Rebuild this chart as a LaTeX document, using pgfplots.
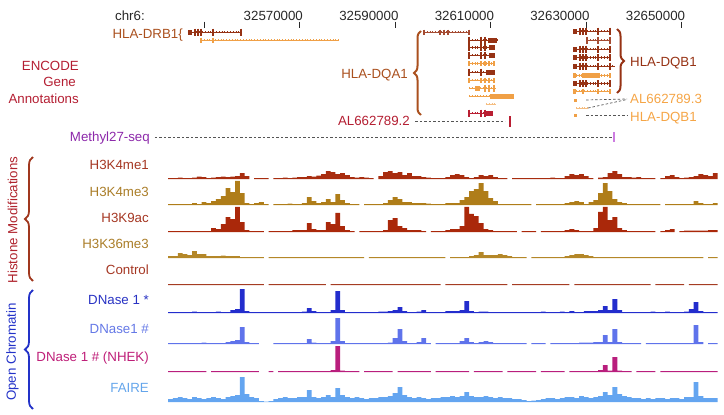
\documentclass[border=0pt]{standalone}
\usepackage{pgfplots}
\pgfplotsset{compat=1.18}
\usepackage{pgfplotstable}
\usepackage{fontspec}
\setmainfont{Liberation Sans}
\usetikzlibrary{decorations.pathreplacing}

\definecolor{cMe1}{RGB}{168,45,15}
\definecolor{cMe3}{RGB}{175,125,25}
\definecolor{cK9}{RGB}{170,40,10}
\definecolor{cK36}{RGB}{180,135,40}
\definecolor{cCtl}{RGB}{165,60,35}
\definecolor{cDn1}{RGB}{35,45,205}
\definecolor{cDn2}{RGB}{95,115,235}
\definecolor{cNhek}{RGB}{185,30,125}
\definecolor{cFaire}{RGB}{100,165,240}
\definecolor{lMe1}{RGB}{165,55,35}
\definecolor{lMe3}{RGB}{170,125,40}
\definecolor{lDn1}{RGB}{40,50,195}
\definecolor{lDn2}{RGB}{100,120,230}
\definecolor{lNhek}{RGB}{190,30,120}
\definecolor{lFaire}{RGB}{100,165,235}
\definecolor{cEnc}{RGB}{180,30,50}
\definecolor{cGeneDark}{RGB}{150,50,20}
\definecolor{cGeneMid}{RGB}{165,75,50}
\definecolor{cGeneOr}{RGB}{240,160,70}
\definecolor{cGeneLt}{RGB}{245,190,130}
\definecolor{cGeneCr}{RGB}{185,30,50}
\definecolor{cLabBrown}{RGB}{170,80,30}
\definecolor{cLabOr}{RGB}{245,165,70}
\definecolor{cMeth}{RGB}{140,40,170}
\definecolor{cMethTick}{RGB}{205,125,225}
\definecolor{cDash}{RGB}{85,85,85}
\definecolor{cTick}{RGB}{40,40,40}
\definecolor{cHist}{RGB}{175,35,45}
\definecolor{cHistBrace}{RGB}{160,55,30}
\definecolor{cOpen}{RGB}{35,50,200}

\pgfplotstableread{
kb me1 me3 k9 k36 ctl dn1 dn2 nhek faire
32543 1 1 1 2 0.8 1 1 1 3
32544 1 1 1 2 0.8 1 1 1 4
32545 1.5 1 1 5 0.8 1 1 1 5
32546 1 1 1 4 0.8 1 1 1 4
32547 1 1 1 3 0.8 1 1 1 3
32548 1.5 2 1 7 0.8 1.5 1 1 5
32549 2.5 1 1 4 0.8 1 1 1 4
32550 2 3 1 4 0.8 1 1.5 1 3
32551 1 2 1 2 0.8 1 1 nan 4
32552 1.5 4 4 2 0.8 1 1 1 5
32553 2 6 3 2 0.8 1.5 1 1 4
32554 2.5 9 8 2.5 0.8 1 1 1 3
32555 2 17 15 2 0.8 1 2 1 5
32556 2.5 13 13 2 0.8 3 3 1 6
32557 3 24 25 2 0.8 4 4 1 7
32558 6 12 10 1 0.8 24 17 1 25
32559 3 2 2 1 0.8 2 2 1 8
32560 nan 1 1 1 0.8 1 1 1 5
32561 1 2 1 1 0.8 1 1 1 4
32562 1 3 1 1 0.8 1 nan nan 1
32563 1 1 nan nan nan 1 nan nan 0.5
32564 nan nan 1 1 0.8 1 nan 1 1
32565 1 1 1 1 0.8 1 1 nan 3
32566 1 1 1 1 0.8 1 1 1 4
32567 1.5 1 1 1 0.8 1 1 1 5
32568 1 1.5 1 1 0.8 1 1 1 4
32569 1.5 1 2 1 0.8 1 1 1 4
32570 2 1 2 1 0.8 1 1 1 5
32571 2 2 2 1 0.8 1.5 1 1 5
32572 3 8 9 1 0.8 5 5 1 12
32573 2.5 4 3 1 0.8 2 1.5 1 5
32574 3.5 2 2 1 0.8 1 1 1 4
32575 5 3 2 1 0.8 1 1 1 5
32576 8 6 10 1 nan 1 1 1 7
32577 7 3 8 1 0.8 3 3 2 5
32578 5 11 19 1 0.8 22 26 26 14
32579 6 5 6 1 0.8 3 3 1.5 7
32580 4 2 2 1 0.8 1 1 1 5
32581 2 1 1 1 0.8 1 1 1 4
32582 1.5 1 nan 1 0.8 1 1 1 5
32583 2 nan 1 1 0.8 1 1 nan 4
32584 1.5 1 1 nan 0.8 1 1 1 3
32585 1 1 1 1 0.8 1 1 1 4
32586 nan 1 1 1 0.8 1 1 1 4
32587 3 1 1 1 0.8 1.5 1 1 5
32588 7 2 2 1 0.8 1.5 1 1 5
32589 8 5 12 1 0.8 2 1.5 1 6
32590 6 8 14 1 0.8 3 6 nan 9
32591 7 6 6 1 0.8 6 15 1 15
32592 4 3 4 1 0.8 2 3 1 7
32593 6 3 2 1 0.8 1 1 1 5
32594 3 2 2 1 0.8 1 1 1 4
32595 3 2 2 1 0.8 1.5 2 1 5
32596 2 2 1 1 0.8 3 6 1 4
32597 1.5 1.5 nan 1 0.8 1 1 1 3
32598 1 1 1 1 0.8 1 nan nan 4
32599 1 1 1 1 0.8 1 1 1 4
32600 1 1 1 1 nan 1 1 1 5
32601 2 2 2 nan 0.8 2 1 1 5
32602 4 2 3 1 0.8 2 1 1 6
32603 5 2 3 1 0.8 2 1 1 5
32604 4 5 6 1 0.8 3 3 1 6
32605 2 8 25 1 0.8 12 6 1 10
32606 1 14 18 2 0.8 2 2 nan 6
32607 2 16 16 3 0.8 1 1 1 5
32608 4 22 9 6 0.8 1.5 2 1 5
32609 3 14 3 3 0.8 1.5 3 1 6
32610 4 7 2 3 0.8 1 2 1 5
32611 2 4 1 3 0.8 1 1 1 4
32612 1 1 1 4 0.8 1 1 1 5
32613 1 1 1 3 0.8 1 1 nan 4
32614 nan 1 1 2 nan 1 1 1 4
32615 1 1 1 1 0.8 1 1 1 3
32616 1 1 nan 1 0.8 1 1 1 3
32617 1 1 1 1 0.8 1 1 1 2
32618 1 1 1 nan 0.8 1 nan 1 1
32619 1 nan 1 1 0.8 1 1 1 1.5
32620 1 1 nan 1 0.8 1 1 nan 2
32621 1 1 1 1 0.8 1.5 1 1 3
32622 1 1 1 1 0.8 1 nan 1 4
32623 1.5 1 1 1 0.8 1 1 1 4
32624 1 1 1 1 0.8 1 1 1 3
32625 1 1 1 1 0.8 1.5 1 1 4
32626 3 2 2 2 0.8 1 1 nan 5
32627 5 3 3 3 nan 2 1 1 5
32628 4 4 2 4 0.8 1 1 1 4
32629 5 3 1 4 0.8 1 1.5 1 6
32630 3 1 1 3 0.8 2 1.5 1 5
32631 1 3 1 2 0.8 2 1.5 1 4
32632 nan 5 4 1 0.8 2 2 1 5
32633 1.5 12 20 1 0.8 3 2 2 6
32634 2 22 25 1 0.8 7 9 7 10
32635 6 14 12 1 0.8 3 2 1.5 7
32636 8 6 15 1 0.8 14 15 15 15
32637 5 3 4 1 0.8 3 2 1.5 8
32638 2 2 2 1 0.8 1 1 1 6
32639 2 1 1 1 0.8 1 1 1 5
32640 1.5 1 1 1 0.8 1 1 nan 4
32641 2 1 1 1 0.8 1 1 1 4
32642 1 1 1 1 0.8 1 nan 1 3
32643 1 1 1 1 0.8 1 1 1 4
32644 1 1 1 1 nan 1.5 1 1 3
32645 nan 1 nan 1 0.8 1 1 nan 4
32646 1 nan 1 1 0.8 1 1 1 4
32647 3 1 2 1 0.8 1.5 1 1 3
32648 4 1 3 1 0.8 1 1 1 4
32649 2 1 nan 1 0.8 1 1 1 4
32650 1 1 1 1 0.8 1 1 1 3
32651 1.5 1 1.5 1 nan 1.5 1 1 5
32652 2 1 1.5 1 0.8 4 1 1 5
32653 3 4 1.5 1 0.8 11 19 1 20
32654 5 2 1.5 1 0.8 2 2 1 6
32655 4 1 1.5 nan 0.8 1 nan 1 4
32656 3 1 2 1 0.8 1 1 1 4
32657 6 2 2 1 0.8 1 1 1 4
}\tracks

\pgfplotsset{
  track/.style={width=549.36pt, height=26pt, scale only axis,
    xmin=32542.5, xmax=32657.5, ymin=0, ymax=26, hide axis,
    anchor=south west, clip=false},
  sig/.style={ybar, bar width=1, bar shift=0pt, draw=none, fill=#1},
  intron/.style={line width=0.6pt, postaction={draw, line width=2.2pt, dash pattern=on 0.4pt off 2.4pt}},
  exon/.style={only marks, mark=|, mark size=3.5pt, mark options={line width=1.3pt}},
  block/.style={line width=5pt},
  conn/.style={cDash, line width=0.7pt, dash pattern=on 2.5pt off 2pt},
}

\begin{document}
\begin{tikzpicture}[x=1pt, y=1pt, every node/.style={font=\fontsize{13.3}{15}\selectfont, inner sep=0pt}]
\useasboundingbox (0,0) rectangle (724,-415);

% ---------- frame axis: coordinates (kb, pixel row) ----------
\begin{axis}[at={(362pt,-207.5pt)}, anchor=center, width=724pt, height=415pt, scale only axis,
  xmin=32507.29, xmax=32658.84, ymin=0, ymax=415, y dir=reverse, hide axis, clip=false]
% ruler ticks
\addplot[only marks, mark=|, mark size=3.2pt, mark options={line width=0.8pt}, color=cTick]
  coordinates {(32550,24.8)(32570,24.8)(32590,24.8)(32610,24.8)(32630,24.8)(32650,24.8)};
\node[anchor=base east, xshift=3.5pt, text=cTick] at (axis cs:32570,20) {32570000};
\node[anchor=base east, xshift=3.5pt, text=cTick] at (axis cs:32590,20) {32590000};
\node[anchor=base east, xshift=3.5pt, text=cTick] at (axis cs:32610,20) {32610000};
\node[anchor=base east, xshift=3.5pt, text=cTick] at (axis cs:32630,20) {32630000};
\node[anchor=base east, xshift=3.5pt, text=cTick] at (axis cs:32650,20) {32650000};

% HLA-DRB1
\addplot[cGeneDark, intron] coordinates {(32546.64,32)(32557.73,32)};
\addplot[cGeneDark, block] coordinates {(32546.64,32)(32547.48,32)};
\addplot[cGeneDark, exon] coordinates {(32548.10,32)(32548.73,32)(32549.36,32)(32551.87,32)(32557.73,32)};
\addplot[cGeneOr, intron] coordinates {(32549.36,40)(32578.25,40)};
\addplot[cGeneOr, exon, mark size=2.5pt] coordinates {(32549.36,40)(32551.87,40)};

% HLA-DQA1
\addplot[cGeneMid, intron] coordinates {(32596.04,32)(32605.46,32)};
\addplot[cGeneMid, exon, mark size=2.5pt] coordinates {(32596.04,32)(32599.39,32)(32600.23,32)(32601.07,32)(32605.46,32)};
\addplot[cGeneDark, intron] coordinates {(32605.46,40)(32611.33,40)};
\addplot[cGeneDark, block] coordinates {(32609.44,40)(32611.33,40)};
\addplot[cGeneDark, exon] coordinates {(32605.46,40)(32607.98,40)(32608.81,40)};
\addplot[cGeneDark, intron] coordinates {(32605.46,47.5)(32610.91,47.5)};
\addplot[cGeneDark, block] coordinates {(32609.65,47.5)(32610.91,47.5)};
\addplot[cGeneDark, exon] coordinates {(32605.46,47.5)(32607.98,47.5)(32608.81,47.5)};
\addplot[cGeneDark, intron] coordinates {(32605.46,55)(32610.91,55)};
\addplot[cGeneDark, block] coordinates {(32609.65,55)(32610.91,55)};
\addplot[cGeneDark, exon] coordinates {(32605.46,55)(32607.98,55)(32608.81,55)};
\addplot[cGeneOr, intron] coordinates {(32605.46,63.5)(32610.70,63.5)};
\addplot[cGeneOr, exon, mark size=2.5pt] coordinates {(32605.46,63.5)(32607.98,63.5)(32608.81,63.5)(32609.65,63.5)(32610.70,63.5)};
\addplot[cGeneDark, intron] coordinates {(32605.46,72)(32610.91,72)};
\addplot[cGeneDark, block] coordinates {(32609.02,72)(32610.91,72)};
\addplot[cGeneDark, exon] coordinates {(32605.46,72)(32607.98,72)};
\addplot[cGeneOr, intron] coordinates {(32605.46,80)(32610.70,80)};
\addplot[cGeneOr, exon, mark size=2.5pt] coordinates {(32605.46,80)(32607.98,80)(32608.81,80)(32609.65,80)(32610.70,80)};
\addplot[cGeneOr, intron] coordinates {(32605.46,88)(32611.12,88)};
\addplot[cGeneOr, block] coordinates {(32606.72,88)(32607.77,88)};
\addplot[cGeneOr, exon] coordinates {(32608.81,88)(32609.65,88)(32610.70,88)};
\addplot[cGeneOr, intron] coordinates {(32605.46,96)(32609.86,96)};
\addplot[cGeneOr, block] coordinates {(32609.86,96)(32614.88,96)};
\addplot[cGeneLt, intron] coordinates {(32609.02,104)(32611.12,104)};
\addplot[cGeneCr, intron] coordinates {(32605.46,113)(32610.49,113)};
\addplot[cGeneCr, block] coordinates {(32609.02,113)(32610.49,113)};
\addplot[cGeneCr, exon] coordinates {(32605.46,113)(32607.98,113)(32608.81,113)};

% HLA-DQB1
\addplot[cGeneDark, intron] coordinates {(32627.24,31)(32634.98,31)};
\addplot[cGeneDark, block] coordinates {(32627.24,31)(32628.07,31)};
\addplot[cGeneDark, exon] coordinates {(32628.70,31)(32629.33,31)(32629.96,31)(32632.47,31)(32634.98,31)};
\addplot[cGeneMid, intron] coordinates {(32630.17,40)(32634.98,40)};
\addplot[cGeneMid, exon] coordinates {(32630.17,40)(32632.47,40)(32634.98,40)};
\addplot[cGeneDark, intron] coordinates {(32627.24,49)(32634.98,49)};
\addplot[cGeneDark, block] coordinates {(32627.24,49)(32628.07,49)};
\addplot[cGeneDark, exon] coordinates {(32628.70,49)(32629.33,49)(32629.96,49)(32632.47,49)(32634.98,49)};
\addplot[cGeneDark, intron] coordinates {(32627.24,57.5)(32634.98,57.5)};
\addplot[cGeneDark, block] coordinates {(32627.24,57.5)(32628.07,57.5)};
\addplot[cGeneDark, exon] coordinates {(32628.70,57.5)(32629.33,57.5)(32629.96,57.5)(32632.47,57.5)(32634.98,57.5)};
\addplot[cGeneDark, intron] coordinates {(32627.24,66)(32636.03,66)};
\addplot[cGeneDark, block] coordinates {(32627.24,66)(32628.07,66)};
\addplot[cGeneDark, exon] coordinates {(32628.70,66)(32629.33,66)(32629.96,66)(32632.47,66)(32634.98,66)};
\addplot[cGeneOr, intron] coordinates {(32627.24,75.5)(32634.98,75.5)};
\addplot[cGeneOr, block] coordinates {(32627.24,75.5)(32627.86,75.5)};
\addplot[cGeneOr, block] coordinates {(32629.12,75.5)(32632.89,75.5)};
\addplot[cGeneOr, exon, mark size=2.5pt] coordinates {(32634.98,75.5)};
\addplot[cGeneDark, intron] coordinates {(32627.24,83.5)(32634.98,83.5)};
\addplot[cGeneDark, block] coordinates {(32627.24,83.5)(32628.07,83.5)};
\addplot[cGeneDark, exon] coordinates {(32628.70,83.5)(32629.33,83.5)(32629.96,83.5)(32632.47,83.5)(32634.98,83.5)};
\addplot[cGeneOr, intron] coordinates {(32627.24,91)(32634.98,91)};
\addplot[cGeneOr, block] coordinates {(32627.24,91)(32627.86,91)};
\addplot[cGeneOr, exon, mark size=2.5pt] coordinates {(32629.33,91)(32632.47,91)(32634.98,91)};
% AL662789.3 and small HLA-DQB1 models
\addplot[cGeneOr, line width=3pt] coordinates {(32627.45,100)(32628.07,100)};
\addplot[cGeneLt, intron] coordinates {(32627.86,108)(32630.38,108)};
\addplot[cGeneOr, line width=3pt] coordinates {(32627.45,115.5)(32628.07,115.5)};
% connectors
\addplot[conn] coordinates {(32629.96,100)(32638.54,99)};
\addplot[conn] coordinates {(32630.38,108)(32638.54,99.5)};
\addplot[conn] coordinates {(32629.96,115.5)(32638.54,115.5)};
\addplot[conn] coordinates {(32594.16,121)(32613.00,121)};
\addplot[cGeneCr, line width=1.6pt] coordinates {(32614.05,116)(32614.05,127)};
\addplot[conn] coordinates {(32539.73,137)(32635.40,137)};
\addplot[cMethTick, line width=1.6pt] coordinates {(32635.82,132)(32635.82,142)};
\end{axis}

% ---------- signal tracks ----------
\begin{axis}[track, at={(168.22pt,-179pt)}]
\addplot[sig=cMe1] table[x=kb, y=me1] {\tracks};
\end{axis}
\begin{axis}[track, at={(168.22pt,-205pt)}]
\addplot[sig=cMe3] table[x=kb, y=me3] {\tracks};
\end{axis}
\begin{axis}[track, at={(168.22pt,-232pt)}]
\addplot[sig=cK9] table[x=kb, y=k9] {\tracks};
\end{axis}
\begin{axis}[track, at={(168.22pt,-258pt)}]
\addplot[sig=cK36] table[x=kb, y=k36] {\tracks};
\end{axis}
\begin{axis}[track, at={(168.22pt,-285pt)}]
\addplot[sig=cCtl] table[x=kb, y=ctl] {\tracks};
\end{axis}
\begin{axis}[track, at={(168.22pt,-313pt)}]
\addplot[sig=cDn1] table[x=kb, y=dn1] {\tracks};
\end{axis}
\begin{axis}[track, at={(168.22pt,-344pt)}]
\addplot[sig=cDn2] table[x=kb, y=dn2] {\tracks};
\end{axis}
\begin{axis}[track, at={(168.22pt,-372pt)}]
\addplot[sig=cNhek] table[x=kb, y=nhek] {\tracks};
\end{axis}
\begin{axis}[track, at={(168.22pt,-402pt)}]
\addplot[sig=cFaire] table[x=kb, y=faire] {\tracks};
\end{axis}

% ---------- labels ----------
\node[anchor=base west, text=cTick] at (115,-20) {chr6:};
\node[anchor=base east, text=cEnc] at (79,-70) {ENCODE};
\node[anchor=base east, text=cEnc] at (76,-86.5) {Gene};
\node[anchor=base east, text=cEnc] at (79,-103) {Annotations};
\node[anchor=base east, text=cLabBrown] at (183,-38) {HLA-DRB1\{};
\node[anchor=base east, text=cLabBrown] at (408,-78.5) {HLA-DQA1};
\node[anchor=base east, text=cEnc] at (410,-125.5) {AL662789.2};
\node[anchor=base west, text=cGeneDark] at (630,-66) {HLA-DQB1};
\node[anchor=base west, text=cLabOr] at (630,-103.5) {AL662789.3};
\node[anchor=base west, text=cLabOr] at (630,-121) {HLA-DQB1};
\node[anchor=base east, text=cMeth] at (150,-141.5) {Methyl27-seq};

\node[anchor=base east, text=lMe1] at (149,-169) {H3K4me1};
\node[anchor=base east, text=lMe3] at (149,-196) {H3K4me3};
\node[anchor=base east, text=lMe1] at (149,-222) {H3K9ac};
\node[anchor=base east, text=lMe3] at (149,-248) {H3K36me3};
\node[anchor=base east, text=lMe1] at (149,-274) {Control};
\node[anchor=base east, text=lDn1] at (149,-304) {DNase 1 *};
\node[anchor=base east, text=lDn2] at (149,-333) {DNase1 \#};
\node[anchor=base east, text=lNhek] at (149,-361) {DNase 1 \# (NHEK)};
\node[anchor=base east, text=lFaire] at (149,-392) {FAIRE};

\node[rotate=90, text=cHist] at (12.5,-220) {Histone Modifications};
\node[rotate=90, text=cOpen] at (12.5,-352) {Open Chromatin};

% braces
\draw[cLabBrown, line width=2pt, decorate, decoration={brace, amplitude=7pt}] (421,-115) -- (421,-31);
\draw[cGeneDark, line width=2pt, decorate, decoration={brace, amplitude=7pt}] (617,-29) -- (617,-93);
\draw[cHistBrace, line width=1.8pt, decorate, decoration={brace, amplitude=8pt}] (33,-281) -- (33,-157);
\draw[cOpen, line width=1.8pt, decorate, decoration={brace, amplitude=8pt}] (33,-409) -- (33,-290);
\end{tikzpicture}
\end{document}
